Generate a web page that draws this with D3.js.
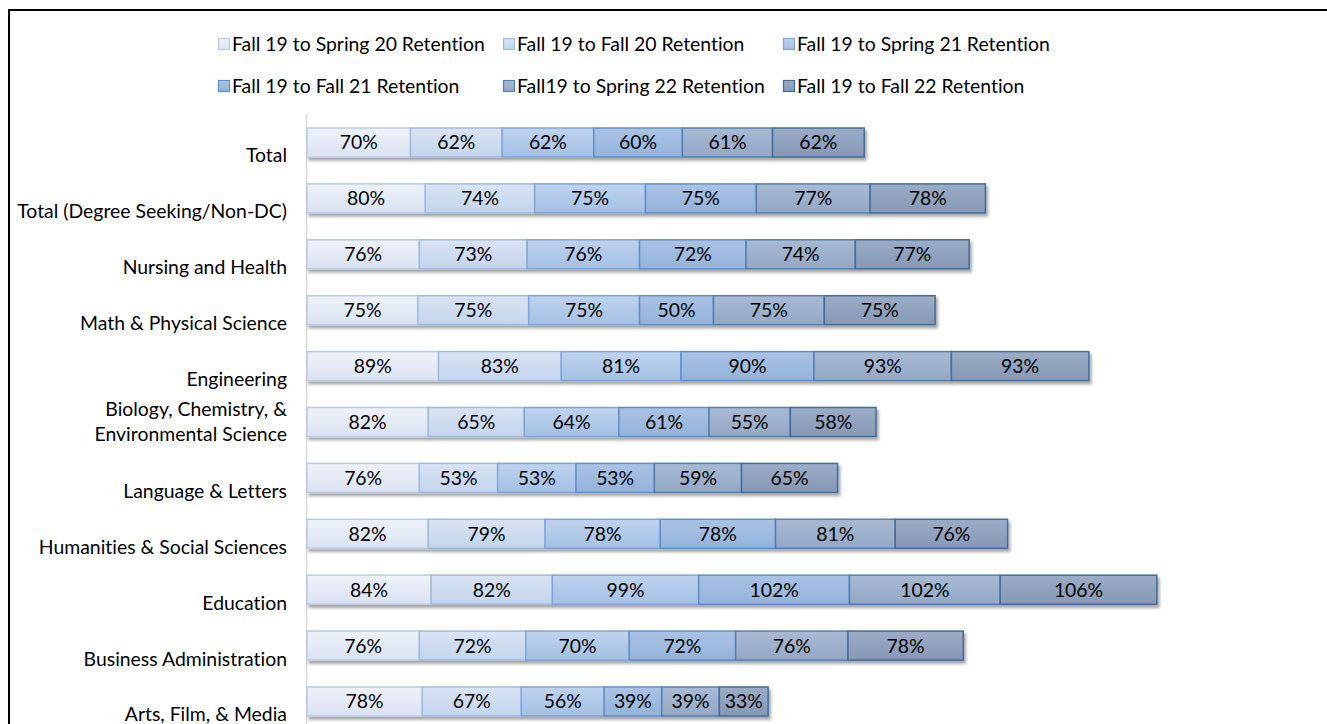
<!DOCTYPE html>
<html>
<head>
<meta charset="utf-8">
<script src="https://cdn.jsdelivr.net/npm/d3@7"></script>
<style>
  html, body { margin: 0; padding: 0; background: #fff; }
  svg { display: block; }
  text { font-family: Lato, "Liberation Sans", sans-serif; fill: #000; font-variant-ligatures: none; font-feature-settings: "liga" 0, "clig" 0; }
</style>
</head>
<body>
<svg id="chart" width="1327" height="724"></svg>
<script>
// ---- data ----
const categories = [
  "Total",
  "Total (Degree Seeking/Non-DC)",
  "Nursing and Health",
  "Math & Physical Science",
  "Engineering",
  "Biology, Chemistry, &\nEnvironmental Science",
  "Language & Letters",
  "Humanities & Social Sciences",
  "Education",
  "Business Administration",
  "Arts, Film, & Media"
];
const seriesNames = [
  "Fall 19 to Spring 20 Retention",
  "Fall 19 to Fall 20 Retention",
  "Fall 19 to Spring 21 Retention",
  "Fall 19 to Fall 21 Retention",
  "Fall19 to Spring 22 Retention",
  "Fall 19 to Fall 22 Retention"
];
const spring20 = [70, 80, 76, 75, 89, 82, 76, 82, 84, 76, 78];
const fall20   = [62, 74, 73, 75, 83, 65, 53, 79, 82, 72, 67];
const spring21 = [62, 75, 76, 75, 81, 64, 53, 78, 99, 70, 56];
const fall21   = [60, 75, 72, 50, 90, 61, 53, 78, 102, 72, 39];
const spring22 = [61, 77, 74, 75, 93, 55, 59, 81, 102, 76, 39];
const fall22   = [62, 78, 77, 75, 93, 58, 65, 76, 106, 78, 33];
const seriesValues = [spring20, fall20, spring21, fall21, spring22, fall22];

// styles
const gradTop    = ["#eef2f9", "#d9e4f4", "#bed3ee", "#aac3e5", "#a8bad3", "#9badc6"];
const gradBottom = ["#dae3f2", "#c3d4ec", "#a4c0e4", "#93b2da", "#93a8c6", "#8598b5"];
const strokes    = ["#b9cbe6", "#a0bbe0", "#7fa5d8", "#5f8fc8", "#5181b2", "#406d9d"];
const FS = 19.4;

const svg = d3.select("#chart");
const defs = svg.append("defs");
seriesNames.forEach((s, i) => {
  const g = defs.append("linearGradient").attr("id", "g" + i)
    .attr("x1", 0).attr("y1", 0).attr("x2", 0).attr("y2", 1);
  g.append("stop").attr("offset", "0%").attr("stop-color", gradTop[i]);
  g.append("stop").attr("offset", "100%").attr("stop-color", gradBottom[i]);
});
const f = defs.append("filter").attr("id", "shadow")
  .attr("x", "-5%").attr("y", "-30%").attr("width", "110%").attr("height", "180%");
f.append("feDropShadow").attr("dx", 2).attr("dy", 3).attr("stdDeviation", 1.8)
  .attr("flood-color", "#000").attr("flood-opacity", 0.35);

// chart border
svg.append("rect").attr("x", 9).attr("y", 10).attr("width", 1340).attr("height", 740)
  .attr("fill", "none").attr("stroke", "#000").attr("stroke-width", 2);

// scales
const x = d3.scaleLinear().domain([0, 100]).range([307, 454.8]);
const y = d3.scaleBand().domain(categories).range([128, 716]).paddingInner(0.481).paddingOuter(0);

// stack data
const rows = categories.map((c, i) => {
  const o = { cat: c };
  seriesNames.forEach((s, j) => o[s] = seriesValues[j][i]);
  return o;
});
const stacked = d3.stack().keys(seriesNames)(rows);

// axis line
svg.append("line").attr("x1", 306.5).attr("x2", 306.5).attr("y1", 114).attr("y2", 724)
  .attr("stroke", "#d9d9d9").attr("stroke-width", 1.5);

// bars
const rowG = svg.append("g").selectAll("g.row").data(categories).join("g")
  .attr("class", "row").attr("filter", "url(#shadow)");
rowG.each(function(cat, ci) {
  const g = d3.select(this);
  stacked.forEach((layer, si) => {
    const d = layer[ci];
    g.append("rect")
      .attr("x", x(d[0]))
      .attr("y", y(cat))
      .attr("width", x(d[1]) - x(d[0]))
      .attr("height", y.bandwidth())
      .attr("fill", `url(#g${si})`)
      .attr("stroke", strokes[si])
      .attr("stroke-width", 1.5);
  });
});
// data labels
stacked.forEach((layer, si) => {
  svg.append("g").selectAll("text").data(layer).join("text")
    .attr("x", d => (x(d[0]) + x(d[1])) / 2)
    .attr("y", (d, i) => y(categories[i]) + y.bandwidth() / 2)
    .attr("dy", "0.36em")
    .attr("text-anchor", "middle")
    .attr("font-size", FS)
    .text(d => (d[1] - d[0]) + "%");
});

// category labels
svg.append("g").selectAll("text").data(categories).join("text")
  .attr("text-anchor", "end")
  .attr("font-size", FS)
  .each(function(c) {
    const lines = c.split("\n");
    const t = d3.select(this);
    const cy = y(c) + y.bandwidth() / 2;
    const lastY = lines.length > 1 ? cy + 12 : cy + 13;
    lines.forEach((l, k) => {
      t.append("tspan").attr("x", 287)
        .attr("y", lastY - (lines.length - 1 - k) * 25)
        .attr("dy", "0.36em").text(l);
    });
  });

// legend
const legCols = [218, 503, 783];
const legRows = [44, 86];
const leg = svg.append("g").selectAll("g").data(seriesNames).join("g")
  .attr("transform", (d, i) => `translate(${legCols[i % 3]},${legRows[Math.floor(i / 3)]})`);
leg.append("rect").attr("x", 0.5).attr("y", -5.5).attr("width", 11).attr("height", 11)
  .attr("fill", (d, i) => `url(#g${i})`).attr("stroke", (d, i) => strokes[i]).attr("stroke-width", 1.2);
leg.append("text").attr("x", 14).attr("y", 0).attr("dy", "0.36em")
  .attr("font-size", FS).text(d => d);
</script>
</body>
</html>
